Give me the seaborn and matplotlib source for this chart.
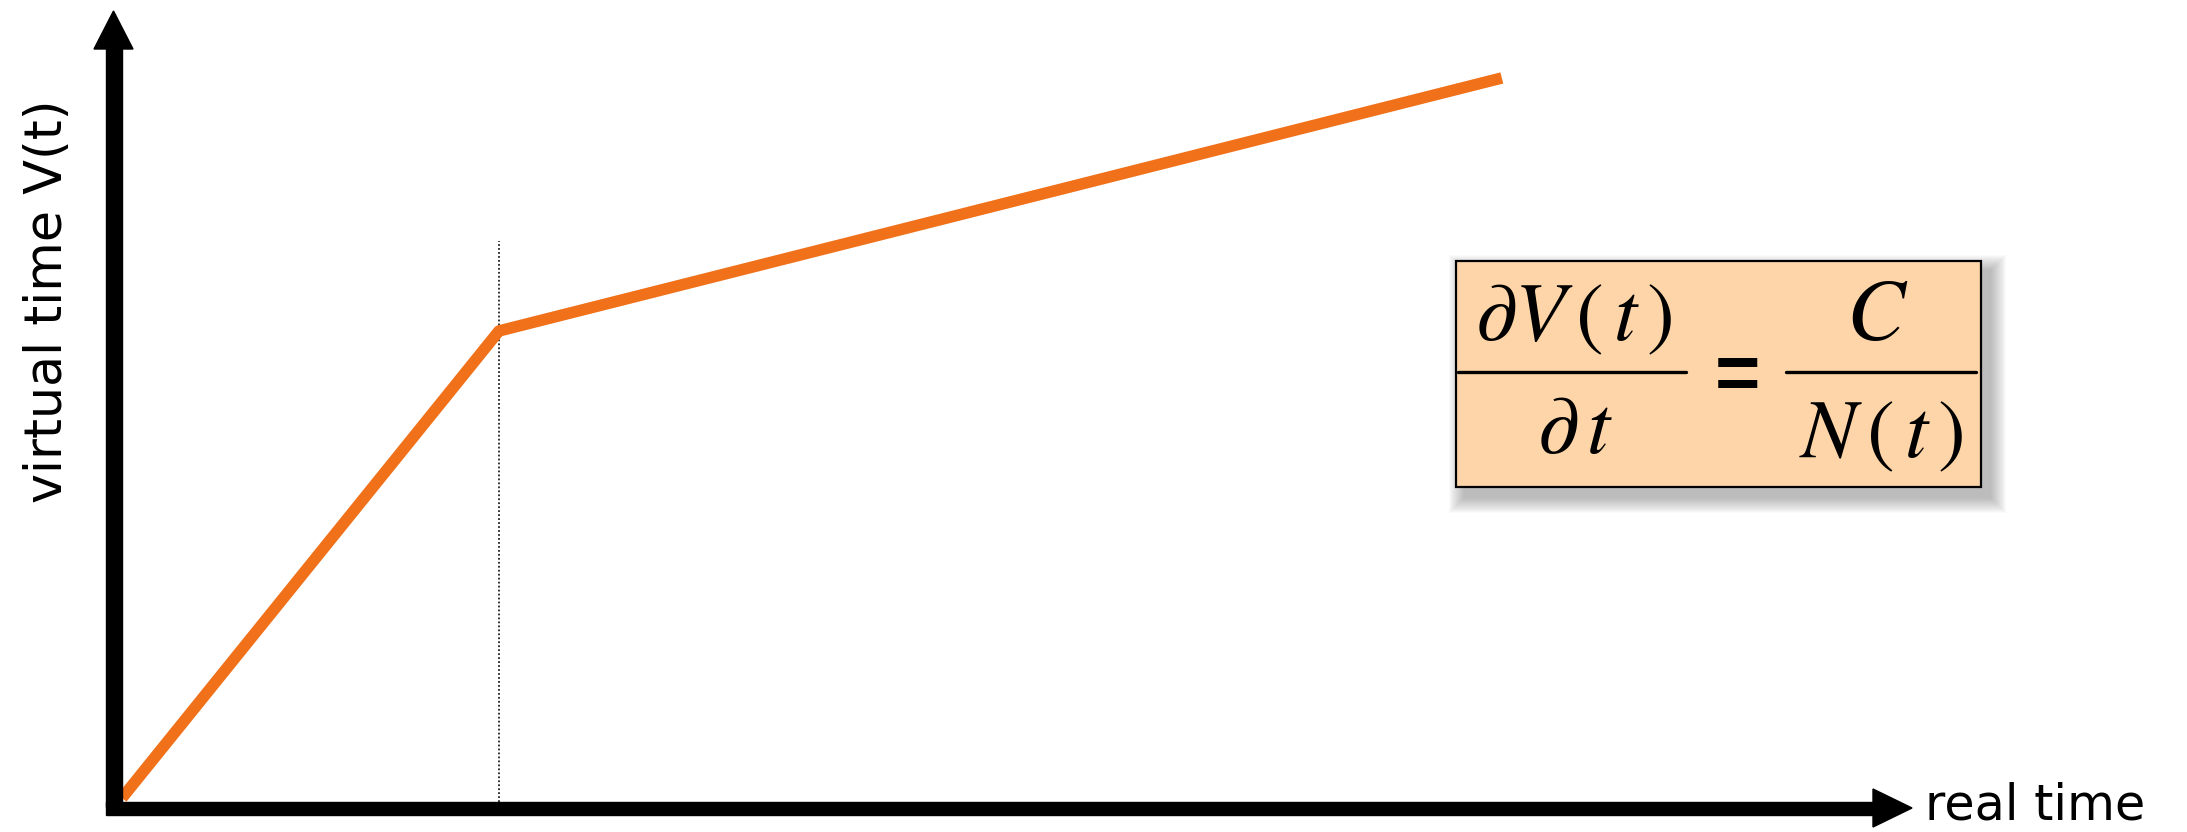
import matplotlib
matplotlib.use("Agg")
import matplotlib.pyplot as plt
from matplotlib.patches import Rectangle, Polygon
from matplotlib.lines import Line2D
import seaborn as sns

# data: real time vs virtual time (piecewise linear, slope drops at t=10)
real_time = [0, 10, 36.6]
virtual_time = [0, 12, 18.5]
kink_top = 14.3          # top of the dotted marker at the kink
x_label = "real time"
y_label = "virtual time V(t)"

W, H = 2187, 832
ORANGE = "#F07119"
PEACH = "#FDD5A8"

# pixel placement of data origin and scale (px per unit)
ox, oy = 122, 798
sx, sy = 37.7, 38.92

sns.set_theme(style="white")
plt.rcParams["font.family"] = ["DejaVu Sans"]
plt.rcParams["mathtext.fontset"] = "stix"
plt.rcParams["text.color"] = "black"


def fx(x):
    return x / W


def fy(y):
    return 1 - y / H


fig = plt.figure(figsize=(W / 100, H / 100), dpi=100)
ax = fig.add_axes([0, 0, 1, 1])
ax.set_xlim(-ox / sx, (W - ox) / sx)
ax.set_ylim((oy - H) / sy, oy / sy)
ax.axis("off")

# the curve
sns.lineplot(x=real_time, y=virtual_time, ax=ax, color=ORANGE, lw=8.3,
             sort=False, solid_capstyle="butt", zorder=3)

# dotted guide at the kink
ax.vlines(real_time[1], -0.1, kink_top, colors="#222222", lw=1.3,
          linestyles=(0, (1, 1.2)), zorder=2)

# axes arrows (drawn over the curve)
tf = fig.transFigure
fig.patches.append(Rectangle((fx(106), fy(807)), fx(16), 762 / H,
                             color="black", transform=tf, zorder=5))
fig.patches.append(Polygon([(fx(94), fy(49)), (fx(133), fy(49)), (fx(113.5), fy(11))],
                           closed=True, color="black", transform=tf, zorder=5))
fig.patches.append(Rectangle((fx(106), fy(815)), fx(1875 - 106), 13 / H,
                             color="black", transform=tf, zorder=5))
fig.patches.append(Polygon([(fx(1873), fy(789)), (fx(1873), fy(827)), (fx(1912), fy(808))],
                           closed=True, color="black", transform=tf, zorder=5))

fig.text(fx(1925), fy(819), x_label, fontsize=35.5, ha="left", va="baseline")
fig.text(fx(48), fy(301), y_label, fontsize=36.5, rotation=90,
         ha="center", va="center")

# formula box with soft shadow
bx0, by0, bx1, by1 = 1456, 261, 1981, 487
for r in range(16, 0, -1):
    fig.patches.append(Rectangle((fx(bx0 + 9 - r), fy(by1 + 10 + r)),
                                 fx(bx1 - bx0 + 2 * r), (by1 - by0 + 2 * r) / H,
                                 color="#555555", alpha=0.028, lw=0,
                                 transform=tf, zorder=6))
fig.patches.append(Rectangle((fx(bx0), fy(by1)), fx(bx1 - bx0), (by1 - by0) / H,
                             facecolor=PEACH, edgecolor="black", lw=1.6,
                             transform=tf, zorder=7))

fs = 60
fig.text(fx(1574), fy(340), r"$\partial V\,(\,t\,)$", fontsize=fs, ha="center",
         va="baseline", zorder=8)
fig.text(fx(1575), fy(453), r"$\partial\,t$", fontsize=fs, ha="center",
         va="baseline", zorder=8)
fig.text(fx(1877), fy(340), r"$C$", fontsize=fs + 3, ha="center",
         va="baseline", zorder=8)
fig.text(fx(1881), fy(457), r"$N\,(\,t\,)$", fontsize=fs, ha="center",
         va="baseline", zorder=8)
fig.text(fx(1737), fy(371), "=", fontsize=56, fontweight="bold",
         family=["Liberation Sans"], ha="center", va="center_baseline", zorder=8)
fig.lines.append(Line2D([fx(1458), fx(1686)], [fy(372), fy(372)], color="black",
                        lw=2.4, transform=tf, zorder=8))
fig.lines.append(Line2D([fx(1786), fx(1976)], [fy(372), fy(372)], color="black",
                        lw=2.4, transform=tf, zorder=8))

fig.savefig("out.png", dpi=100)
